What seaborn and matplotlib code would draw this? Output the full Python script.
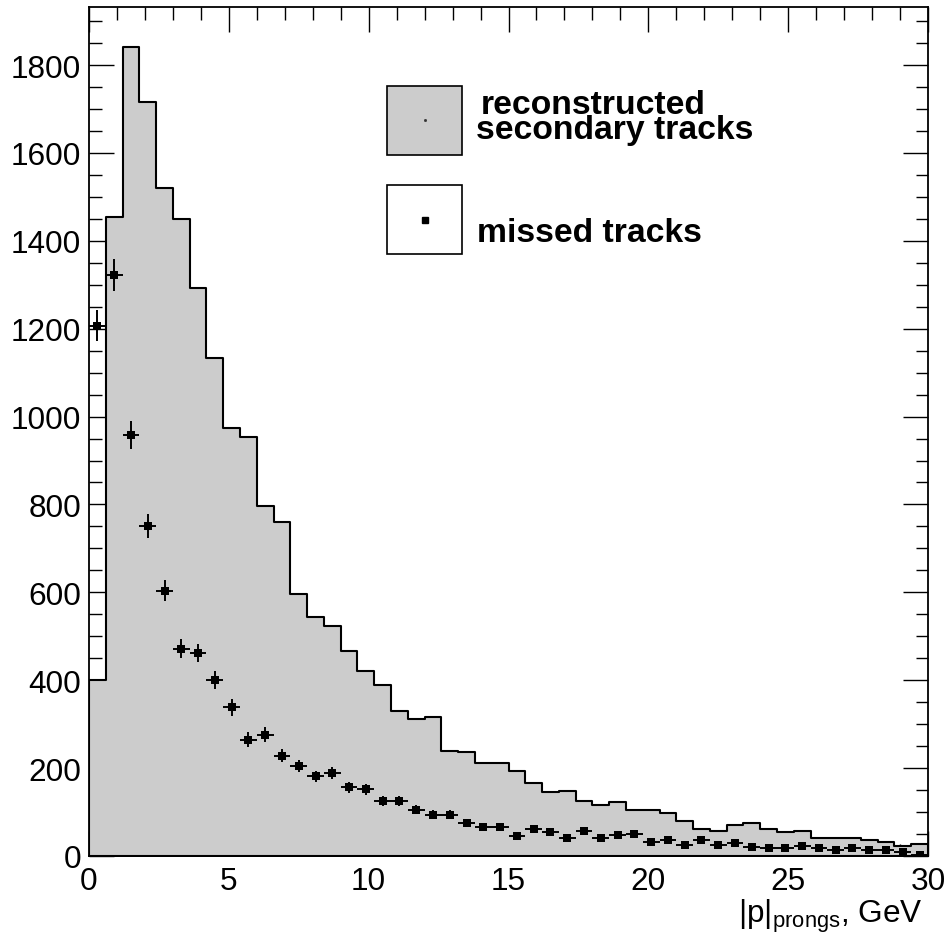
import numpy as np
import pandas as pd
import matplotlib
matplotlib.use("Agg")
import matplotlib.pyplot as plt
import seaborn as sns
from matplotlib.patches import Rectangle
from matplotlib.lines import Line2D
from matplotlib.ticker import MultipleLocator

# Momentum binning of the prongs, GeV
p_min, p_max, n_bins = 0.0, 30.0, 50

# Reconstructed secondary tracks per bin
reconstructed = [400, 1453, 1840, 1716, 1519, 1450, 1293, 1133, 975, 953,
                 797, 761, 597, 545, 523, 466, 422, 390, 329, 312,
                 316, 240, 236, 211, 211, 193, 166, 145, 148, 126,
                 116, 122, 105, 105, 98, 79, 61, 56, 71, 75,
                 61, 54, 58, 42, 42, 42, 36, 31, 23, 27]

# Missed tracks per bin
missed = [1207, 1322, 958, 750, 604, 472, 462, 400, 338, 265,
          276, 228, 205, 181, 189, 156, 152, 126, 126, 105,
          94, 94, 75, 67, 67, 46, 61, 54, 42, 57,
          42, 47, 50, 31, 37, 25, 37, 25, 29, 21,
          19, 19, 22, 18, 14, 19, 14, 14, 10, 3]

x_ticks = [0, 5, 10, 15, 20, 25, 30]
y_ticks = [0, 200, 400, 600, 800, 1000, 1200, 1400, 1600, 1800]

legend_labels = ["reconstructed", "secondary tracks", "missed tracks"]
x_title = r"|p|$_{\mathrm{prongs}}$, GeV"

edges = np.linspace(p_min, p_max, n_bins + 1)
centers = 0.5 * (edges[:-1] + edges[1:])
half_width = 0.5 * (edges[1] - edges[0])

df = pd.DataFrame({"p": centers, "reco": reconstructed, "missed": missed})
df["err"] = np.sqrt(df["missed"])

sns.set_style("ticks")
plt.rcParams["font.family"] = ["Liberation Sans", "DejaVu Sans"]
plt.rcParams["mathtext.fontset"] = "custom"
plt.rcParams["mathtext.rm"] = "Liberation Sans"
plt.rcParams["mathtext.it"] = "Liberation Sans:italic"
plt.rcParams["mathtext.bf"] = "Liberation Sans:bold"

W, H = 948, 937
fig = plt.figure(figsize=(W / 100, H / 100), dpi=100)
fig.patch.set_facecolor("white")


def fx(px):
    return px / W


def fy(py):
    return 1 - py / H


ax = fig.add_axes([fx(89), fy(857), (928 - 89) / W, (857 - 8) / H])
ax.set_facecolor("white")

GRAY = "#cccccc"

# filled step histogram of reconstructed tracks
sns.histplot(data=df, x="p", weights="reco", bins=n_bins,
             binrange=(p_min, p_max), element="step",
             fill=True, color=GRAY, alpha=1, edgecolor="black",
             linewidth=1.5, ax=ax, zorder=2)

# missed tracks with Poisson errors
ax.errorbar(df["p"], df["missed"], xerr=half_width, yerr=df["err"],
            fmt="none", ecolor="black", elinewidth=1.4, capsize=0, zorder=4)
sns.scatterplot(data=df, x="p", y="missed", marker="s", s=36,
                color="black", edgecolor="black", linewidth=0, ax=ax,
                zorder=5)

ax.set_xlim(p_min, p_max)
ax.set_ylim(0, 1932)
ax.set_xlabel("")
ax.set_ylabel("")
ax.set_xticks(x_ticks)
ax.set_yticks(y_ticks)
ax.set_xticklabels([str(t) for t in x_ticks])
ax.set_yticklabels([str(t) for t in y_ticks])
ax.xaxis.set_minor_locator(MultipleLocator(1))
ax.yaxis.set_minor_locator(MultipleLocator(50))
ax.tick_params(which="both", direction="in", top=True, right=True,
               width=1.0, color="black", labelcolor="black")
ax.tick_params(which="major", length=18, labelsize=22.7)
ax.tick_params(which="minor", length=9)
ax.tick_params(axis="x", which="major", pad=7)
ax.tick_params(axis="y", which="major", pad=5.5)
for s in ax.spines.values():
    s.set_linewidth(1.3)
    s.set_color("black")
    s.set_zorder(6)
ax.grid(False)

# axis title at lower right
fig.text(fx(923), fy(923), x_title, fontsize=22.7, ha="right",
         va="baseline", color="black")

# legend boxes
fig.add_artist(Rectangle((fx(387.3), fy(156)), 74.4 / W, 69.3 / H,
                         facecolor=GRAY, edgecolor="black", lw=1.2,
                         transform=fig.transFigure))
fig.add_artist(Rectangle((fx(387.3), fy(255)), 74.4 / W, 69.0 / H,
                         facecolor="white", edgecolor="black", lw=1.2,
                         transform=fig.transFigure))
fig.add_artist(Line2D([fx(424.5)], [fy(121)], marker="s", ms=1,
                      color="#333333", transform=fig.transFigure))
fig.add_artist(Line2D([fx(424.5)], [fy(220.5)], marker="s", ms=5,
                      color="black", transform=fig.transFigure))

fig.text(fx(481), fy(113.5), legend_labels[0], fontsize=24.3,
         fontweight="bold", va="baseline", color="black")
fig.text(fx(476), fy(138.5), legend_labels[1], fontsize=24.3,
         fontweight="bold", va="baseline", color="black")
fig.text(fx(477), fy(242), legend_labels[2], fontsize=24.3,
         fontweight="bold", va="baseline", color="black")

fig.savefig("out.png", dpi=100, facecolor="white")
